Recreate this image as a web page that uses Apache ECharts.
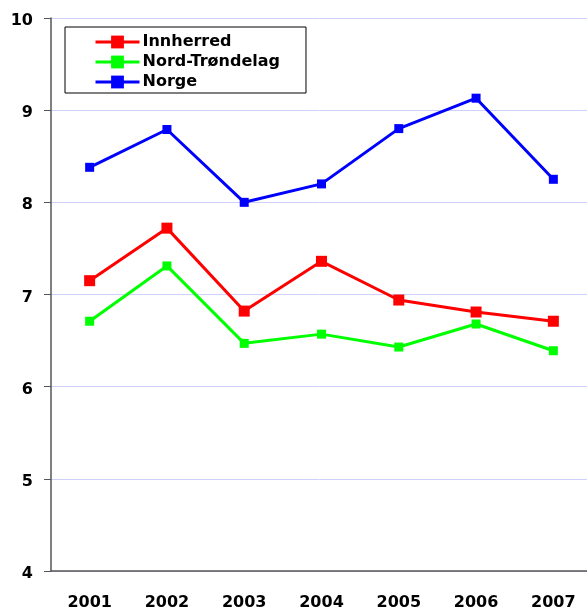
<!DOCTYPE html>
<html><head><meta charset="utf-8">
<script src="https://cdn.jsdelivr.net/npm/echarts@6/dist/echarts.min.js"></script>
<style>html,body{margin:0;padding:0;background:#fff}#c{width:587px;height:610px}</style>
</head><body><div id="c"></div>
<script>
var categories = ['2001','2002','2003','2004','2005','2006','2007'];
var innherred = [7.15, 7.72, 6.82, 7.36, 6.94, 6.81, 6.71];
var nordTrondelag = [6.71, 7.31, 6.47, 6.57, 6.43, 6.68, 6.39];
var norge = [8.38, 8.79, 8.00, 8.20, 8.80, 9.13, 8.25];
var yTicks = [4, 5, 6, 7, 8, 9, 10];

var font = '"DejaVu Sans", sans-serif';
var chart = echarts.init(document.getElementById('c'));
function ser(name, data, color, size) {
  return {name: name, type: 'line', data: data, symbol: 'rect', symbolSize: size,
    lineStyle: {color: color, width: 3}, itemStyle: {color: color}, z: 3, animation: false};
}
chart.setOption({
  animation: false,
  grid: {left: 51, width: 541, top: 18, bottom: 39, containLabel: false, outerBoundsMode: 'none'},
  legend: {
    orient: 'vertical', left: 65, top: 27,
    backgroundColor: '#fff', borderColor: '#000', borderWidth: 1,
    padding: [7, 26, 3, 29], itemGap: 4, itemWidth: 44, itemHeight: 16,
    lineStyle: {width: 3},
    textStyle: {fontFamily: font, fontWeight: 'bold', fontSize: 16, color: '#000', padding: [0,0,0,-2]},
    data: ['Innherred', 'Nord-Trøndelag', 'Norge']
  },
  xAxis: {
    type: 'category', data: categories, boundaryGap: true,
    axisLine: {lineStyle: {color: '#555', width: 1.5}},
    axisTick: {length: 7, lineStyle: {color: '#555'}},
    axisLabel: {fontFamily: font, fontWeight: 'bold', fontSize: 16, color: '#000', margin: 24}
  },
  yAxis: {
    type: 'value', min: 4, max: 10, interval: 1,
    axisLine: {show: true, lineStyle: {color: '#555', width: 1.5}},
    axisTick: {show: true, length: 7, lineStyle: {color: '#555'}},
    splitLine: {lineStyle: {color: '#d0d0ff', width: 1}},
    axisLabel: {fontFamily: font, fontWeight: 'bold', fontSize: 16, color: '#000', margin: 18,
      verticalAlign: 'top', padding: [-5, 0, 0, 0],
      formatter: function (v) { return yTicks.indexOf(v) >= 0 ? String(v) : ''; }}
  },
  series: [
    ser('Innherred', innherred, '#ff0000', 11),
    ser('Nord-Trøndelag', nordTrondelag, '#00ff00', 9),
    ser('Norge', norge, '#0000ff', 9)
  ]
});
</script></body></html>
